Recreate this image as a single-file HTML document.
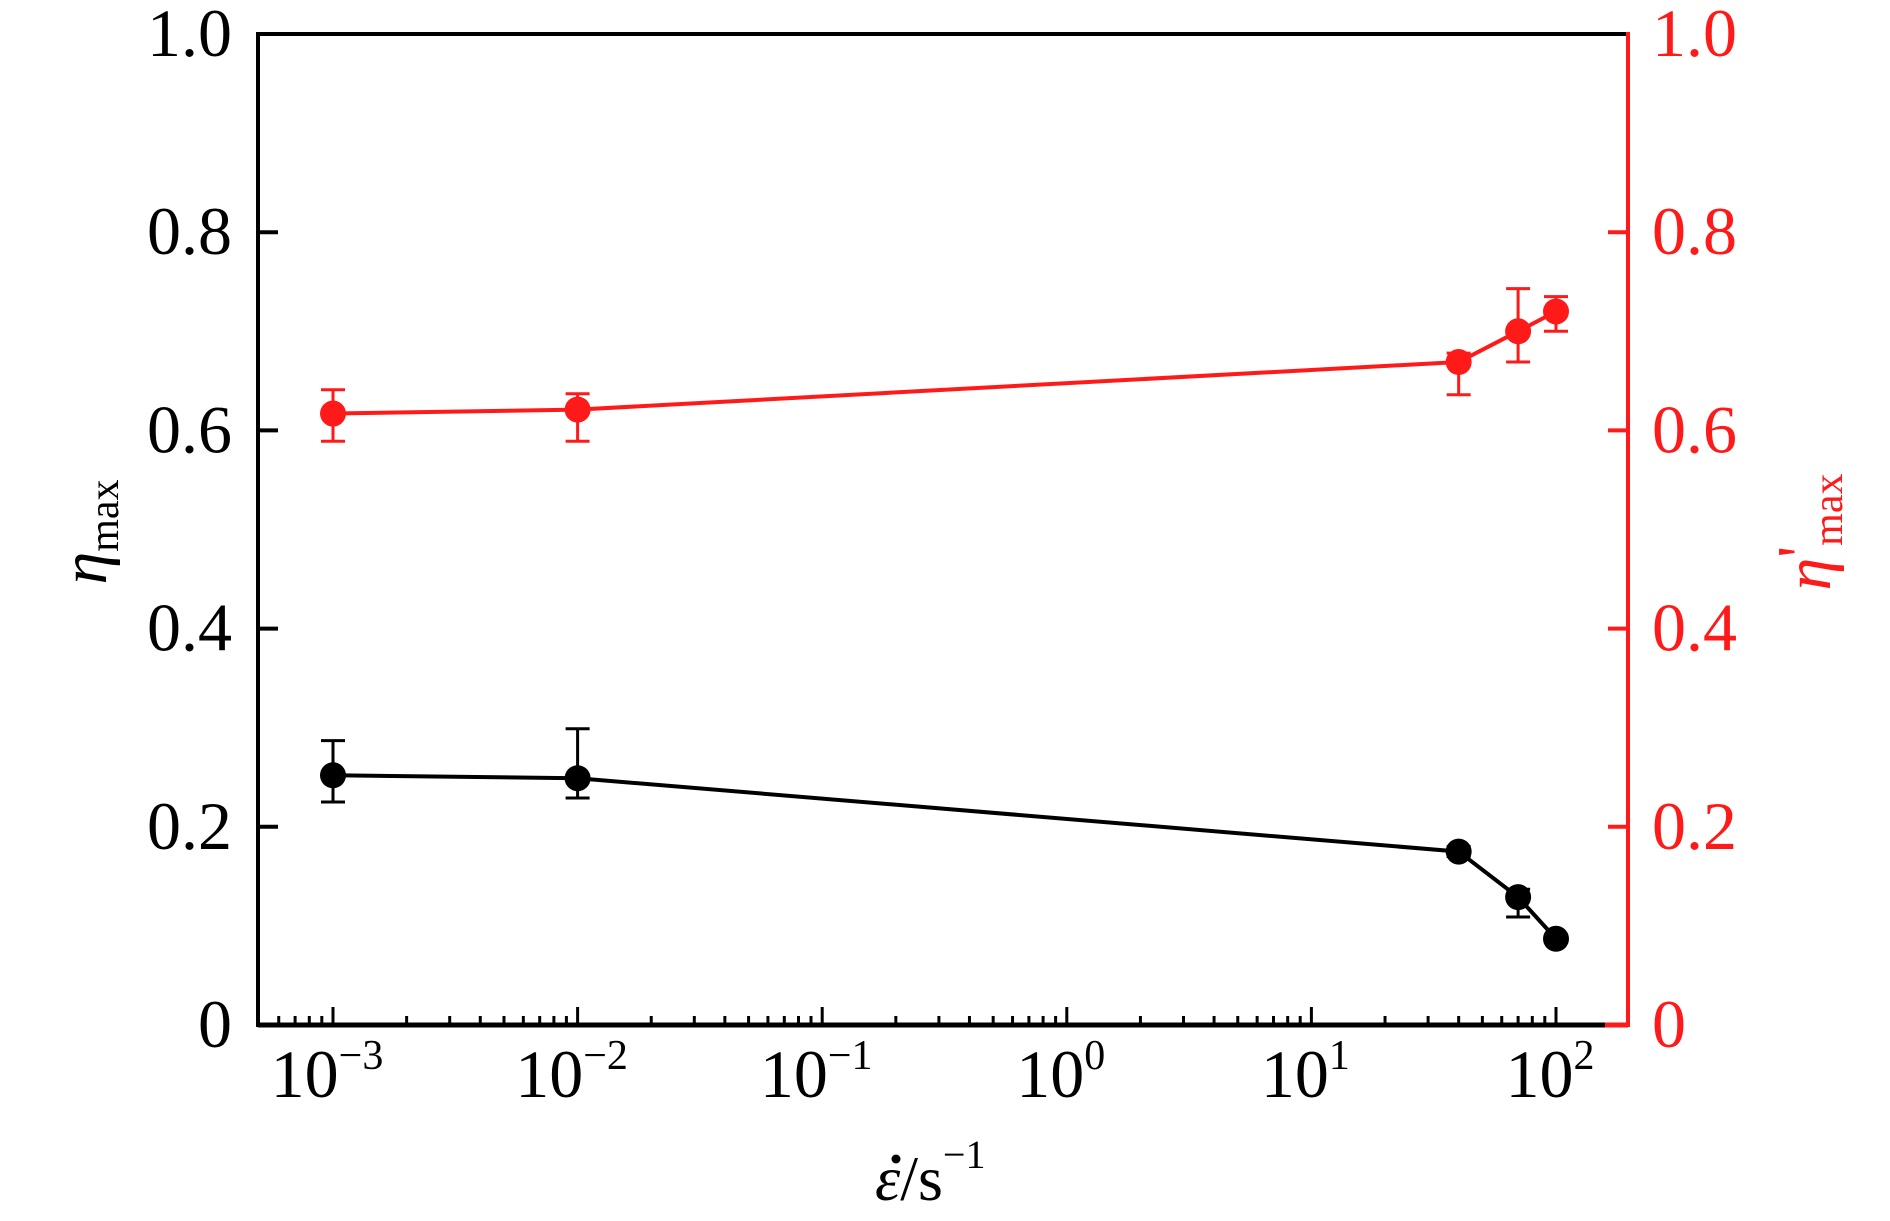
<!DOCTYPE html>
<html><head><meta charset="utf-8"><style>
html,body{margin:0;padding:0;background:#fff;width:1890px;height:1221px;overflow:hidden}
svg, svg text{font-family:"Liberation Serif","Times New Roman",Times,serif}
</style></head><body>
<svg id="chart" width="1890" height="1221" viewBox="0 0 1890 1221" xmlns="http://www.w3.org/2000/svg" font-family="Liberation Serif, Times New Roman, serif">
<g id="axes"></g>
<g id="marks"></g>
<text x="875" y="1200" font-size="64"><tspan font-style="italic">ε</tspan>/s<tspan font-size="40" dy="-32">−1</tspan></text>
<circle cx="896" cy="1159" r="4.5" fill="#000"/>
<text transform="translate(106,532) rotate(-90)" text-anchor="middle" font-size="66"><tspan font-style="italic">η</tspan><tspan font-size="42" dy="12">max</tspan></text>
<text transform="translate(1830,532) rotate(-90)" text-anchor="middle" font-size="66" fill="#ff1a1a"><tspan font-style="italic">η</tspan><tspan dy="-8">'</tspan><tspan font-size="42" dy="20">max</tspan></text>
</svg>
<script>
const xValues = [0.001, 0.01, 40, 70, 100];
const blackValues = [0.252, 0.249, 0.175, 0.129, 0.087];
const blackErrHigh = [0.287, 0.299, 0.180, 0.137, 0.090];
const blackErrLow = [0.225, 0.229, 0.170, 0.109, 0.084];
const redValues = [0.617, 0.621, 0.669, 0.700, 0.720];
const redErrHigh = [0.641, 0.637, 0.678, 0.743, 0.735];
const redErrLow = [0.589, 0.589, 0.636, 0.669, 0.700];
const yTicks = [0, 0.2, 0.4, 0.6, 0.8, 1.0];
const yTickLabels = ["0", "0.2", "0.4", "0.6", "0.8", "1.0"];
const xDecades = [-3, -2, -1, 0, 1, 2];

const NS = "http://www.w3.org/2000/svg";
const L = 258, R = 1628, T = 34, B = 1025, RED = "#ff1a1a";
const X0 = 333, DEC = 244.6;
function xs(v){ return X0 + (Math.log10(v) + 3) * DEC; }
function ys(v){ return B - v * (B - T); }
function mk(tag, attrs, parent){ const e = document.createElementNS(NS, tag); for (const k in attrs) e.setAttribute(k, attrs[k]); parent.appendChild(e); return e; }
const axes = document.getElementById('axes'), marks = document.getElementById('marks');

let e;
e = mk('line', {x1:L, y1:T, x2:R, y2:T, stroke:'#000', 'stroke-width':4}, axes);
 
e = mk('line', {x1:L, y1:T-2, x2:L, y2:B+2, stroke:'#000', 'stroke-width':4}, axes);
 
e = mk('line', {x1:L, y1:B, x2:1605, y2:B, stroke:'#000', 'stroke-width':5}, axes);
 
e = mk('line', {x1:1605, y1:B, x2:R, y2:B, stroke:RED, 'stroke-width':5}, axes);
 
e = mk('line', {x1:R, y1:T-2, x2:R, y2:B+2, stroke:RED, 'stroke-width':4}, axes);
 

yTicks.forEach((v, i) => {
  const y = ys(v);
  if (i > 0 && i < yTicks.length - 1) {
    e = mk('line', {x1:L, y1:y, x2:L+20, y2:y, stroke:'#000', 'stroke-width':4}, axes);
     
    e = mk('line', {x1:R-20, y1:y, x2:R, y2:y, stroke:RED, 'stroke-width':4}, axes);
     
  }
  e = mk('text', {x:232, y:y+22, 'text-anchor':'end', 'font-size':68}, axes);
  e.textContent = yTickLabels[i];
   
  e = mk('text', {x:1652, y:y+22, 'font-size':68, fill:RED}, axes);
  e.textContent = yTickLabels[i];
   
});

for (let d = -4; d <= 2; d++) {
  for (let m = 1; m <= 9; m++) {
    const v = m * Math.pow(10, d);
    const x = xs(v);
    if (x < L + 8 || x > 1600) continue;
    const major = (m === 1);
    e = mk('line', {x1:x, y1:B, x2:x, y2:B-(major?18:9), stroke:'#000', 'stroke-width':3}, axes);
     
  }
}
xDecades.forEach(d => {
  const x = xs(Math.pow(10, d));
  e = mk('text', {x:x-6, y:1097, 'text-anchor':'middle', 'font-size':68}, axes);
   
  e.textContent = '10';
  const s = document.createElementNS(NS, 'tspan');
  s.setAttribute('font-size', '42'); s.setAttribute('dy', '-28');
  s.textContent = d < 0 ? '−' + (-d) : String(d);
  e.appendChild(s);
});

function series(vals, hi, lo, color, name) {
  const g = mk('g', {}, marks);
   
  const pts = xValues.map((x, i) => xs(x) + ',' + ys(vals[i])).join(' ');
  e = mk('polyline', {points:pts, fill:'none', stroke:color, 'stroke-width':4}, g);
   
  xValues.forEach((xv, i) => {
    const x = xs(xv);
    e = mk('path', {d:`M${x-12},${ys(hi[i])}H${x+12}M${x},${ys(hi[i])}V${ys(lo[i])}M${x-12},${ys(lo[i])}H${x+12}`, stroke:color, 'stroke-width':3, fill:'none'}, g);
     
    e = mk('circle', {cx:x, cy:ys(vals[i]), r:13, fill:color}, g);
     
  });
}
series(redValues, redErrHigh, redErrLow, RED, 'eta-prime-max');
series(blackValues, blackErrHigh, blackErrLow, '#000', 'eta-max');
</script>
</body></html>
